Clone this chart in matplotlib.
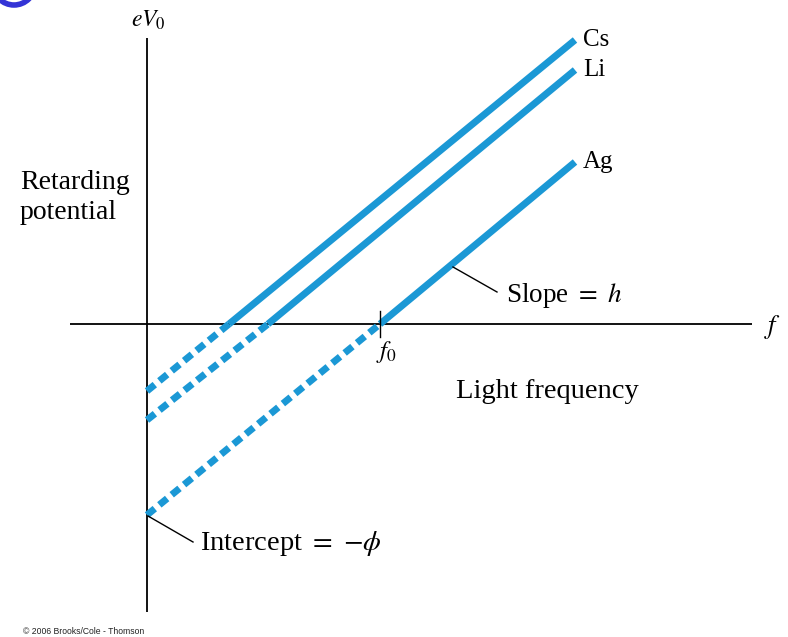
import matplotlib
matplotlib.use("Agg")
import matplotlib.pyplot as plt
from matplotlib.patches import Circle

plt.rcParams['mathtext.fontset'] = 'stix'
plt.rcParams['font.family'] = ['Liberation Serif', 'DejaVu Serif']

# ---- data (frequency / energy in arbitrary units, origin at axis crossing) ----
metals = ['Cs', 'Li', 'Ag']
threshold_freq = [82, 121, 233]        # f0 where eV0 = 0
intercepts = [-67, -96, -191]          # eV0 at f = 0  (= -phi)
end_freq = 428                         # last plotted frequency
end_values = [284, 254, 162]           # eV0 at end_freq

line_color = '#1b98d5'

fig = plt.figure(figsize=(7.88, 6.37), dpi=100)
ax = fig.add_axes([0, 0, 1, 1])
ax.set_xlim(-147, 641)
ax.set_ylim(-313, 324)
ax.axis('off')

# axes
ax.plot([-77, 605], [0, 0], color='black', lw=1.3, solid_capstyle='butt')
ax.plot([0, 0], [286, -288], color='black', lw=1.3, solid_capstyle='butt')

# lines
for name, f0, b, ve in zip(metals, threshold_freq, intercepts, end_values):
    ax.plot([f0, end_freq], [0, ve], color=line_color, lw=5, solid_capstyle='butt')
    ax.plot([0, f0], [b, 0], color=line_color, lw=5,
            linestyle=(0, (1.45, 0.85)), dash_capstyle='butt')
    ax.text(end_freq + 8, ve - 6, name, fontsize=18, ha='left', va='baseline')

# f0 tick on the Ag threshold
ag_f0 = threshold_freq[metals.index('Ag')]
ax.plot([ag_f0, ag_f0], [13, -13], color='black', lw=1.0)
ax.text(ag_f0 - 4, -34, r'$f_0$', fontsize=18, ha='left', va='baseline')

# axis labels
ax.text(1, 297, r'$eV_0$', fontsize=17, ha='center', va='baseline')
ax.text(617, -9, r'$f$', fontsize=19, ha='left', va='baseline')
ax.text(-127, 135, 'Retarding', fontsize=20, ha='left', va='baseline')
ax.text(-127, 105, 'potential', fontsize=20, ha='left', va='baseline')
ax.text(309, -74, 'Light frequency', fontsize=20.5, ha='left', va='baseline')

# annotations
ax.plot([306, 350], [57, 32], color='black', lw=1.0)
ax.text(359, 22, r'Slope $=$ $h$', fontsize=19.5, ha='left', va='baseline')
ax.plot([1, 46], [intercepts[2] - 1, -218], color='black', lw=1.0)
ax.text(53, -226, r'Intercept $=$ $-\phi$', fontsize=20.5, ha='left', va='baseline')

# copyright
ax.text(-124, -310, '\u00a9 2006 Brooks/Cole - Thomson', fontsize=6.2,
        family=['Liberation Sans', 'DejaVu Sans'], ha='left', va='baseline',
        color='#222222')

# partial blue badge at top-left corner
ax.add_patch(Circle((-133, 340), 21, facecolor='none', edgecolor='#3434d6',
                    lw=4, clip_on=False))

fig.savefig('out.png', dpi=100)
